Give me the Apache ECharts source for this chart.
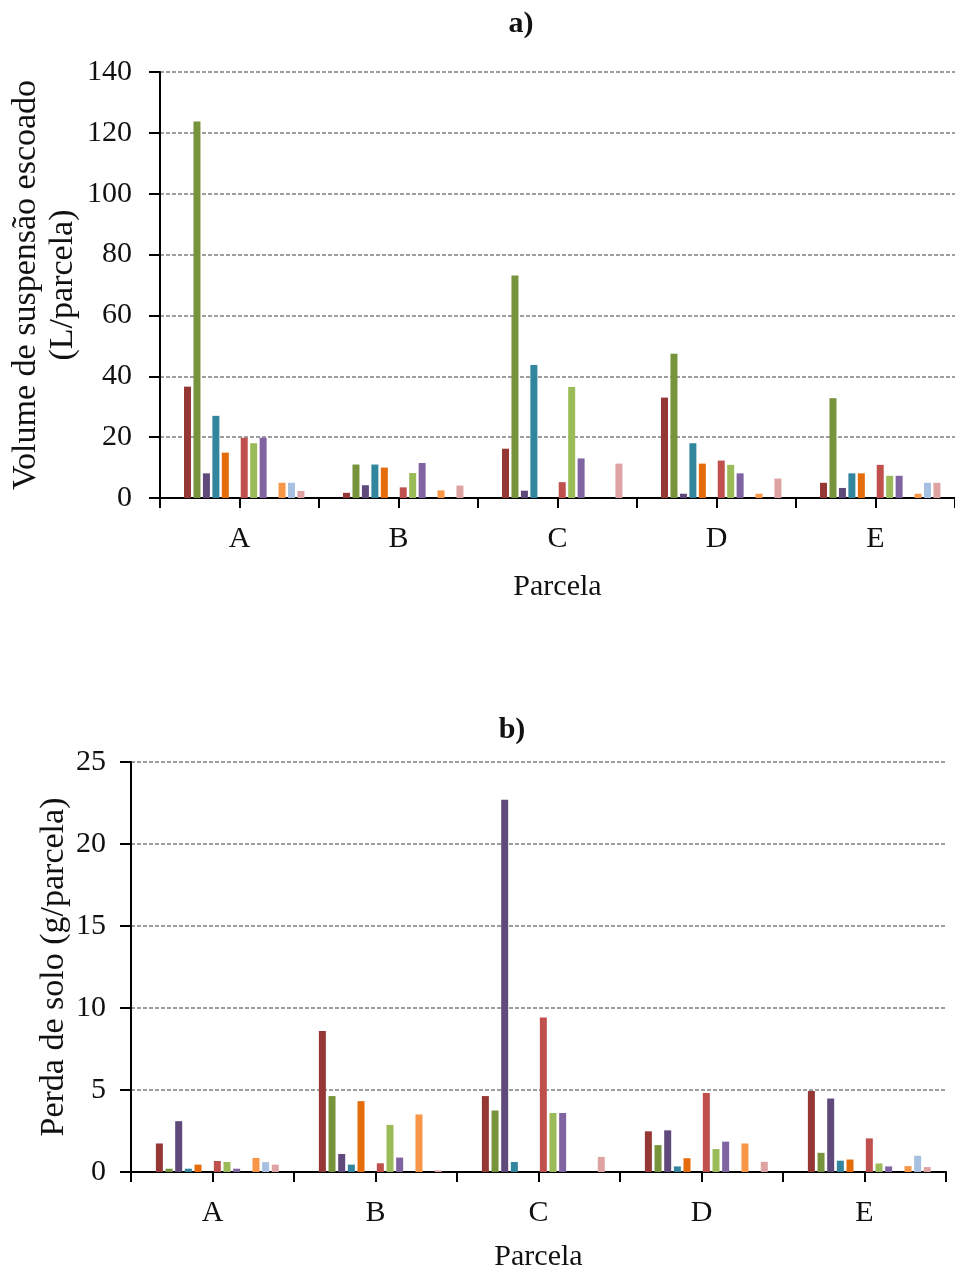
<!DOCTYPE html>
<html>
<head>
<meta charset="utf-8">
<script src="https://cdn.jsdelivr.net/npm/echarts@6/dist/echarts.min.js"></script>
<style>
html,body{margin:0;padding:0;background:#fff;}
#chart{width:955px;height:1271px;}
</style>
</head>
<body>
<div id="chart"></div>
<script>
const categories = ['A', 'B', 'C', 'D', 'E'];
const volumeTicks = [0, 20, 40, 60, 80, 100, 120, 140];
const soilTicks = [0, 5, 10, 15, 20, 25];

// a) Volume de suspensão escoado (L/parcela)
const volDarkRed     = [36.6, 1.7, 16.2, 33.0, 5.0];
const volOlive       = [123.7, 11.0, 73.1, 47.4, 32.8];
const volDarkPurple  = [8.1, 4.2, 2.4, 1.4, 3.3];
const volTeal        = [27.0, 11.0, 43.7, 18.0, 8.1];
const volOrange      = [14.9, 10.0, 0, 11.3, 8.1];
const volRed         = [19.8, 3.5, 5.2, 12.3, 10.9];
const volGreen       = [18.0, 8.2, 36.5, 10.9, 7.3];
const volPurple      = [19.8, 11.5, 13.0, 8.1, 7.3];
const volLightOrange = [5.0, 2.5, 0, 1.4, 1.4];
const volLightBlue   = [5.0, 0, 0, 0, 5.0];
const volPink        = [2.3, 4.1, 11.3, 6.4, 5.0];

// b) Perda de solo (g/parcela)
const soilDarkRed     = [1.74, 8.6, 4.63, 2.48, 4.94];
const soilOlive       = [0.2, 4.63, 3.75, 1.64, 1.17];
const soilDarkPurple  = [3.1, 1.1, 22.7, 2.54, 4.48];
const soilTeal        = [0.2, 0.45, 0.61, 0.34, 0.69];
const soilOrange      = [0.45, 4.32, 0, 0.84, 0.76];
const soilRed         = [0.67, 0.53, 9.42, 4.82, 2.05];
const soilGreen       = [0.61, 2.87, 3.6, 1.4, 0.52];
const soilPurple      = [0.2, 0.88, 3.6, 1.85, 0.34];
const soilLightOrange = [0.86, 3.51, 0, 1.74, 0.36];
const soilLightBlue   = [0.6, 0, 0, 0, 0.99];
const soilPink        = [0.45, 0.1, 0.92, 0.62, 0.3];

const colors = {
  darkRed: '#953735', olive: '#77933C', darkPurple: '#604A7B', teal: '#31859C',
  orange: '#E46C0A', red: '#C0504D', green: '#9BBB59', purple: '#8064A2',
  lightOrange: '#F79646', lightBlue: '#A7BFE0', pink: '#DDA3A2'
};

// slot order (null = empty slot in the original layout)
const volSlots = [null, ['darkRed', volDarkRed], ['olive', volOlive], ['darkPurple', volDarkPurple],
  ['teal', volTeal], ['orange', volOrange], null, ['red', volRed], ['green', volGreen],
  ['purple', volPurple], null, ['lightOrange', volLightOrange], ['lightBlue', volLightBlue], ['pink', volPink]];
const soilSlots = [null, ['darkRed', soilDarkRed], ['olive', soilOlive], ['darkPurple', soilDarkPurple],
  ['teal', soilTeal], ['orange', soilOrange], null, ['red', soilRed], ['green', soilGreen],
  ['purple', soilPurple], null, ['lightOrange', soilLightOrange], ['lightBlue', soilLightBlue], ['pink', soilPink]];

const FONT = '"Liberation Serif", "Times New Roman", serif';

function buildSeries(slots, xIdx, yIdx, gap) {
  return slots.map(function (s, i) {
    const base = {
      type: 'bar', xAxisIndex: xIdx, yAxisIndex: yIdx,
      barWidth: 7, barGap: gap, silent: true, animation: false
    };
    if (!s) { base.data = []; base.name = 'empty' + yIdx + '_' + i; return base; }
    base.name = s[0] + yIdx;
    base.data = s[1];
    base.itemStyle = { color: colors[s[0]] };
    return base;
  });
}

function xAxes(gridIdx, margin, nameGap) {
  return [{
    type: 'category', gridIndex: gridIdx, data: categories, position: 'bottom',
    axisLine: { lineStyle: { color: '#000', width: 2 } },
    axisTick: { show: true, length: 10, lineStyle: { color: '#000', width: 2 } },
    axisLabel: { fontFamily: FONT, fontSize: 30, color: '#111', margin: margin },
    name: 'Parcela', nameLocation: 'middle', nameGap: nameGap, nameMoveOverlap: false,
    nameTextStyle: { fontFamily: FONT, fontSize: 30, color: '#111' }
  }, {
    type: 'category', gridIndex: gridIdx, data: categories, position: 'bottom',
    axisLine: { show: false },
    axisTick: { show: true, alignWithLabel: true, length: 10, lineStyle: { color: '#000', width: 2 } },
    axisLabel: { show: false }, splitLine: { show: false }
  }];
}

function yAxis(gridIdx, ticks, name, nameGap, margin) {
  return {
    type: 'value', gridIndex: gridIdx, min: ticks[0], max: ticks[ticks.length - 1],
    interval: ticks[1] - ticks[0],
    axisLine: { show: true, lineStyle: { color: '#000', width: 2 } },
    axisTick: { show: true, length: 11, lineStyle: { color: '#000', width: 2 } },
    axisLabel: { fontFamily: FONT, fontSize: 30, color: '#111', margin: margin },
    splitLine: { show: true, lineStyle: { color: '#7f7f7f', width: 1.6, type: [4, 2] } },
    name: name, nameLocation: 'middle', nameGap: nameGap, nameMoveOverlap: false,
    nameTextStyle: { fontFamily: FONT, fontSize: 34, color: '#111', lineHeight: 37 }
  };
}

const chart = echarts.init(document.getElementById('chart'), null, { renderer: 'canvas' });
const xa = xAxes(0, 26, 74);
const xb = xAxes(1, 26, 70);
const seriesA = buildSeries(volSlots, 0, 0, '35%');
const seriesB = buildSeries(soilSlots, 2, 1, '38%');

chart.setOption({
  backgroundColor: '#fff',
  animation: false,
  title: [
    { text: 'a)', left: 516, top: 4, textAlign: 'center',
      textStyle: { fontFamily: FONT, fontSize: 30, fontWeight: 'bold', color: '#111' } },
    { text: 'b)', left: 507, top: 710, textAlign: 'center',
      textStyle: { fontFamily: FONT, fontSize: 30, fontWeight: 'bold', color: '#111' } }
  ],
  grid: [
    { left: 160, top: 72, width: 795, height: 426, containLabel: false, outerBoundsMode: 'none' },
    { left: 131, top: 762, width: 815, height: 410, containLabel: false, outerBoundsMode: 'none' }
  ],
  xAxis: [xa[0], xa[1], xb[0], xb[1]],
  yAxis: [
    yAxis(0, volumeTicks, 'Volume de suspensão escoado\n(L/parcela)', 78, 28),
    yAxis(1, soilTicks, 'Perda de solo (g/parcela)', 58, 25)
  ],
  series: seriesA.concat(seriesB)
});
</script>
</body>
</html>
